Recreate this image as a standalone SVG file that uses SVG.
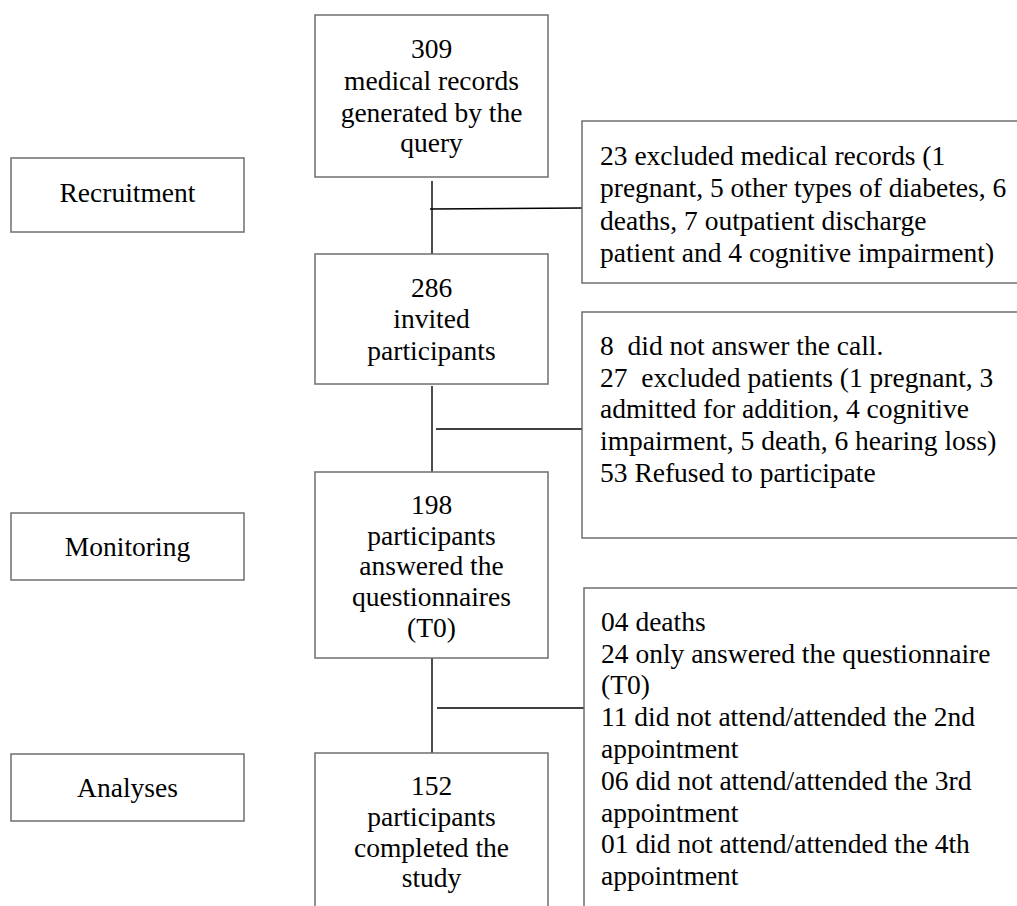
<svg xmlns="http://www.w3.org/2000/svg" width="1017" height="906" viewBox="0 0 1017 906">
<style>
.box{fill:#fff;stroke:#6f6f6f;stroke-width:1.5}
.t{font-family:"Liberation Serif","Times New Roman",serif;font-size:27.5px;fill:#000}
.c{text-anchor:middle}
.ln{stroke:#000;stroke-width:1.4;fill:none}
</style>
<rect width="1017" height="906" fill="#fff"/>
<g id="connectors">
<line class="ln" x1="432" y1="181" x2="432" y2="254"/>
<line class="ln" x1="430" y1="209" x2="582" y2="208"/>
<line class="ln" x1="432" y1="386" x2="432" y2="472"/>
<line class="ln" x1="436" y1="429" x2="582" y2="429"/>
<line class="ln" x1="432" y1="658" x2="432" y2="753"/>
<line class="ln" x1="437" y1="708" x2="584" y2="708"/>
</g>
<g id="recruitment">
<rect class="box" x="11" y="158" width="233" height="74"/>
<text class="t c" x="127.5" y="202">Recruitment</text>
</g>
<g id="monitoring">
<rect class="box" x="11" y="513" width="233" height="67"/>
<text class="t c" x="127.5" y="556">Monitoring</text>
</g>
<g id="analyses">
<rect class="box" x="11" y="754" width="233" height="67"/>
<text class="t c" x="127.5" y="797">Analyses</text>
</g>
<g id="n309">
<rect class="box" x="315" y="15" width="233" height="162"/>
<text class="t c" x="431.5" y="58">309</text>
<text class="t c" x="431.5" y="90"> medical records</text>
<text class="t c" x="431.5" y="122">generated by the</text>
<text class="t c" x="431.5" y="152">query</text>
</g>
<g id="n286">
<rect class="box" x="315" y="254" width="233" height="130"/>
<text class="t c" x="431.5" y="297">286</text>
<text class="t c" x="431.5" y="328">invited</text>
<text class="t c" x="431.5" y="360">participants</text>
</g>
<g id="n198">
<rect class="box" x="315" y="472" width="233" height="186"/>
<text class="t c" x="431.5" y="514">198</text>
<text class="t c" x="431.5" y="545">participants</text>
<text class="t c" x="431.5" y="575">answered the</text>
<text class="t c" x="431.5" y="606">questionnaires</text>
<text class="t c" x="431.5" y="637">(T0)</text>
</g>
<g id="n152">
<rect class="box" x="315" y="753" width="233" height="170"/>
<text class="t c" x="431.5" y="795">152</text>
<text class="t c" x="431.5" y="826">participants</text>
<text class="t c" x="431.5" y="857">completed the</text>
<text class="t c" x="431.5" y="887">study</text>
</g>
<g id="excl1">
<rect class="box" x="582" y="121" width="450" height="162"/>
<text class="t" x="600" y="165">23 excluded medical records (1</text>
<text class="t" x="600" y="197">pregnant, 5 other types of diabetes, 6</text>
<text class="t" x="600" y="229.5">deaths, 7 outpatient discharge</text>
<text class="t" x="600" y="262">patient and 4 cognitive impairment)</text>
</g>
<g id="excl2">
<rect class="box" x="582" y="312" width="450" height="226"/>
<text class="t" x="600" y="355" xml:space="preserve">8  did not answer the call.</text>
<text class="t" x="600" y="387" xml:space="preserve">27  excluded patients (1 pregnant, 3</text>
<text class="t" x="600" y="418">admitted for addition, 4 cognitive</text>
<text class="t" x="600" y="450">impairment, 5 death, 6 hearing loss)</text>
<text class="t" x="600" y="482">53 Refused to participate</text>
</g>
<g id="excl3">
<rect class="box" x="584" y="588" width="450" height="340"/>
<text class="t" x="601" y="631">04 deaths</text>
<text class="t" x="601" y="663">24 only answered the questionnaire</text>
<text class="t" x="601" y="694">(T0)</text>
<text class="t" x="601" y="726">11 did not attend/attended the 2nd</text>
<text class="t" x="601" y="758">appointment</text>
<text class="t" x="601" y="790">06 did not attend/attended the 3rd</text>
<text class="t" x="601" y="822">appointment</text>
<text class="t" x="601" y="853">01 did not attend/attended the 4th</text>
<text class="t" x="601" y="885">appointment</text>
</g>
</svg>
